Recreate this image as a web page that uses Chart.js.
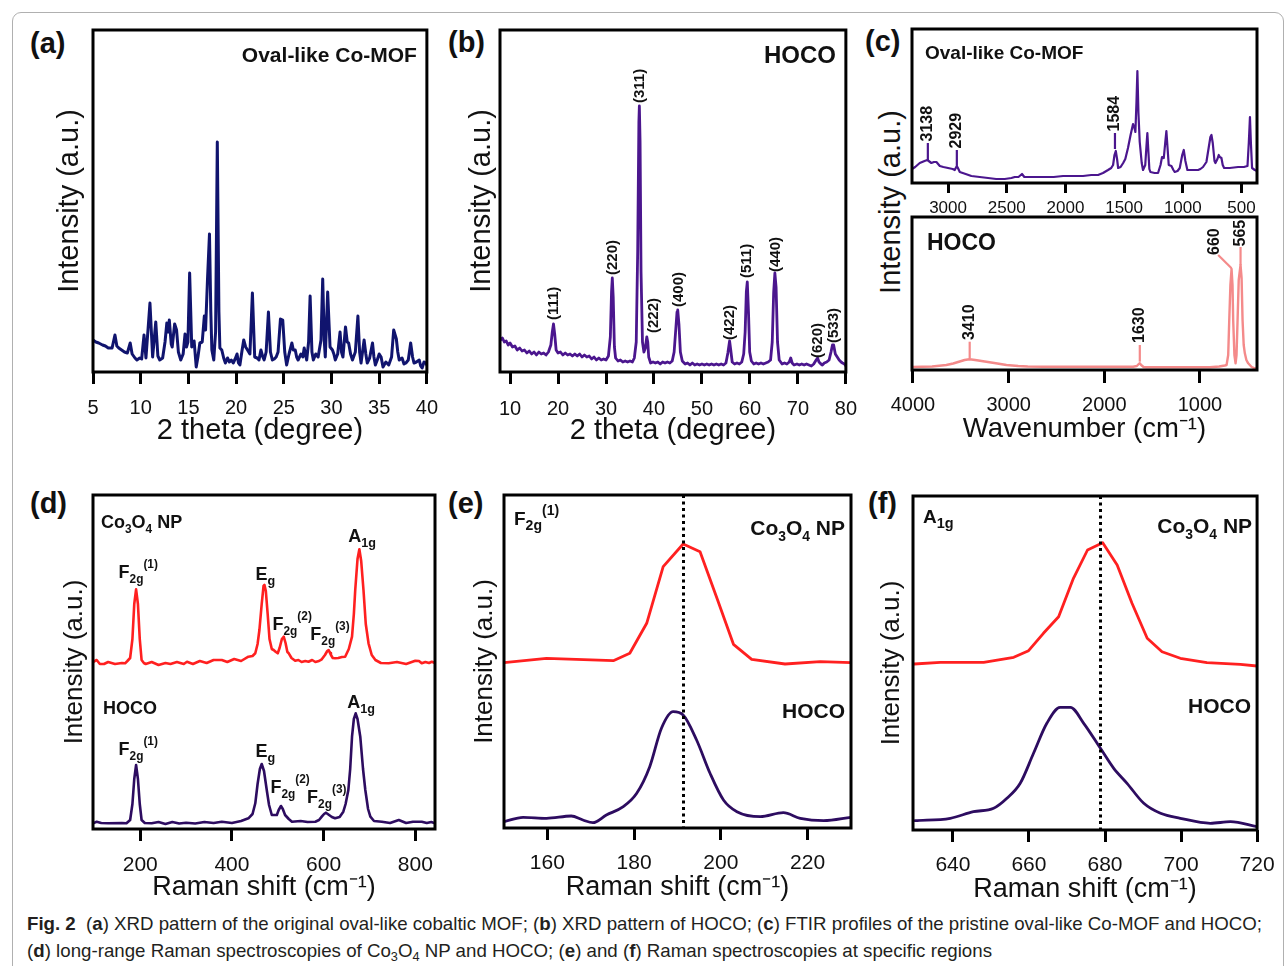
<!DOCTYPE html>
<html><head><meta charset="utf-8">
<script src="https://cdn.jsdelivr.net/npm/chart.js@4.4.1/dist/chart.umd.min.js"></script>
<style>
html,body{margin:0;padding:0;background:#fff;}
#fig{width:1285px;height:966px;position:relative;overflow:hidden;font-family:"Liberation Sans",Arial,Helvetica,sans-serif;}
canvas{position:absolute;}
.frame{position:absolute;left:12px;top:12px;width:1272px;height:1000px;border:1px solid #b0b0b0;border-radius:9px;box-sizing:border-box;}
.plab{position:absolute;font-weight:bold;font-size:29px;line-height:29px;color:#111;}
.cap{position:absolute;left:27px;white-space:nowrap;font-family:"Liberation Sans Narrow","Liberation Sans",Arial,sans-serif;font-size:19px;line-height:19px;color:#231f20;transform-origin:0 0;display:inline-block;}
.cap sub{font-size:0.68em;vertical-align:-0.28em;line-height:0;}
.sharedY{position:absolute;width:300px;height:34px;line-height:34px;text-align:center;font-size:29px;color:#111;transform:rotate(-90deg);}
</style></head>
<body><div id="fig">
<div class="frame"></div>
<div class="plab" style="left:30px;top:29px">(a)</div>
<div class="plab" style="left:448px;top:28px">(b)</div>
<div class="plab" style="left:865px;top:27px">(c)</div>
<div class="plab" style="left:30px;top:489px">(d)</div>
<div class="plab" style="left:448px;top:489px">(e)</div>
<div class="plab" style="left:868px;top:489px">(f)</div>
<div class="sharedY" style="left:740px;top:185px">Intensity (a.u.)</div>
<div class="cap" id="cap1" style="top:914px"><b>Fig. 2</b>&nbsp; (<b>a</b>) XRD pattern of the original oval-like cobaltic MOF; (<b>b</b>) XRD pattern of HOCO; (<b>c</b>) FTIR profiles of the pristine oval-like Co-MOF and HOCO;</div>
<div class="cap" id="cap2" style="top:941px">(<b>d</b>) long-range Raman spectroscopies of Co<sub>3</sub>O<sub>4</sub> NP and HOCO; (<b>e</b>) and (<b>f</b>) Raman spectroscopies at specific regions</div>
</div>
<script>
const FONT = '"Liberation Sans", Arial, Helvetica, sans-serif';

// ===== (a) XRD of oval-like Co-MOF: [2theta, intensity a.u.]
const mofXrd = [[5.0,32],[5.3,30],[5.6,29],[6.0,27],[6.3,26],[6.6,24],[7.0,24],[7.3,37],[7.5,26],[7.7,24],[8.0,22],[8.3,20],[8.6,19],[8.9,29],[9.1,18],[9.4,14],[9.6,12],[9.9,14],[10.1,13],[10.35,37],[10.55,14],[10.97,69],[11.25,15],[11.58,50],[11.8,16],[12.0,12],[12.3,14],[12.55,30],[12.74,49],[12.88,40],[13.0,52],[13.2,28],[13.3,25],[13.56,48],[13.76,42],[13.95,20],[14.2,12],[14.45,18],[14.65,38],[14.8,25],[14.95,30],[15.13,99],[15.35,25],[15.6,31],[15.82,5],[16.0,15],[16.2,29],[16.45,30],[16.67,56],[16.8,42],[17.0,92],[17.21,138],[17.35,60],[17.46,22],[17.66,12],[17.85,40],[18.03,230],[18.2,60],[18.3,24],[18.5,22],[18.7,14],[18.88,9],[19.1,14],[19.3,10],[19.5,12],[19.7,9],[19.9,13],[20.1,18],[20.25,9],[20.4,7],[20.6,20],[20.8,32],[21.0,25],[21.2,22],[21.45,18],[21.71,79],[21.95,15],[22.2,14],[22.4,12],[22.6,22],[22.8,15],[22.94,12],[23.15,20],[23.39,60],[23.6,20],[23.8,12],[24.0,13],[24.2,15],[24.4,20],[24.65,53],[24.89,52],[25.1,20],[25.3,7],[25.55,18],[25.85,29],[26.0,22],[26.2,22],[26.35,15],[26.5,12],[26.8,18],[27.0,15],[27.14,24],[27.4,12],[27.6,30],[27.76,76],[27.95,20],[28.1,12],[28.35,18],[28.6,15],[28.9,32],[29.08,93],[29.25,30],[29.35,15],[29.6,80],[29.85,25],[30.1,22],[30.25,18],[30.4,12],[30.65,18],[30.9,40],[31.05,20],[31.2,15],[31.47,45],[31.65,30],[31.8,29],[32.0,18],[32.2,12],[32.5,20],[32.77,56],[32.95,20],[33.1,9],[33.42,32],[33.6,18],[33.75,9],[34.0,14],[34.3,29],[34.45,15],[34.6,7],[34.8,12],[35.0,18],[35.2,15],[35.4,5],[35.7,10],[36.0,7],[36.3,15],[36.52,42],[36.8,33],[36.95,20],[37.1,12],[37.4,14],[37.6,8],[37.8,9],[38.05,12],[38.3,29],[38.5,15],[38.65,9],[38.9,10],[39.2,12],[39.35,6],[39.5,4],[39.7,10],[39.9,9],[40.0,7]];
const mofXrdTicks = [5,10,15,20,25,30,35,40];

// ===== (b) XRD of HOCO
const hocoXrd = [[8.0,32],[8.4,34],[8.8,30],[9.2,31],[9.6,27],[10.0,29],[10.5,25],[11.0,26],[11.5,22],[12.0,24],[12.5,21],[13.0,22],[13.5,19],[14.0,21],[14.5,18],[15.0,20],[15.5,17],[16.0,20],[16.5,18],[17.0,19],[17.5,17],[18.0,20],[18.5,27],[18.8,40],[19.05,48],[19.3,38],[19.6,22],[20.0,19],[20.5,20],[21.0,17],[21.5,19],[22.0,17],[22.5,18],[23.0,16],[23.5,18],[24.0,16],[24.5,18],[25.0,15],[25.5,17],[26.0,15],[26.5,16],[27.0,13],[27.5,15],[28.0,12],[28.5,14],[29.0,12],[29.5,13],[30.0,12],[30.5,16],[30.9,35],[31.15,80],[31.31,94],[31.5,75],[31.75,25],[32.0,14],[32.5,11],[33.0,12],[33.5,10],[34.0,11],[34.5,10],[35.0,11],[35.5,10],[35.9,14],[36.3,30],[36.6,120],[36.85,250],[36.95,266],[37.1,230],[37.3,100],[37.6,30],[37.9,20],[38.2,24],[38.5,35],[38.7,30],[38.9,15],[39.3,9],[39.8,10],[40.3,9],[40.8,10],[41.3,8],[41.8,10],[42.3,9],[42.8,10],[43.3,9],[43.8,11],[44.2,20],[44.5,40],[44.8,60],[44.95,62],[45.2,48],[45.5,20],[45.9,11],[46.5,8],[47.0,9],[47.5,7],[48.0,9],[48.5,7],[49.0,8],[49.5,7],[50.0,8],[50.5,7],[51.0,8],[51.5,7],[52.0,8],[52.5,7],[53.0,8],[53.5,7],[54.0,8],[54.5,7],[55.0,9],[55.4,19],[55.76,31],[56.0,22],[56.3,10],[56.8,8],[57.3,9],[57.8,8],[58.3,10],[58.7,18],[59.0,40],[59.25,80],[59.45,90],[59.7,60],[59.95,20],[60.3,11],[60.8,8],[61.3,9],[61.8,8],[62.3,9],[62.8,8],[63.3,9],[63.8,10],[64.3,12],[64.65,30],[64.95,80],[65.2,99],[65.45,85],[65.75,30],[66.1,12],[66.7,8],[67.2,9],[67.7,8],[68.2,10],[68.5,14],[68.8,9],[69.2,7],[69.8,8],[70.3,7],[70.8,8],[71.3,7],[71.8,8],[72.3,7],[72.8,6],[73.3,8],[73.8,12],[74.1,14],[74.4,10],[74.8,8],[75.1,7],[75.5,9],[76.0,10],[76.5,12],[76.9,20],[77.2,27],[77.45,27],[77.8,18],[78.2,15],[78.6,12],[79.0,10],[79.3,9],[79.7,8],[80.0,6]];
const hocoXrdTicks = [10,20,30,40,50,60,70,80];
const hklLabels = ['(111)','(220)','(311)','(222)','(400)','(422)','(511)','(440)','(620)','(533)'];
const hklTheta  = [19.05,31.4,37.0,39.9,45.25,55.86,59.45,65.5,74.1,77.55];
const hklLabelBase = [52,97,269,39,65,32,94,100,14,29];

// ===== (c) FTIR
const mofFtir = [[3307,14],[3280,16],[3241,20],[3200,22],[3176,23],[3142,20],[3120,21],[3099,21],[3070,17],[3040,16],[3000,15],[2960,14],[2943,13],[2930,16],[2920,16],[2900,11],[2850,9],[2801,7],[2730,6],[2659,5],[2590,4],[2517,4],[2460,5],[2432,6],[2400,6],[2370,9],[2350,6],[2333,6],[2250,6],[2177,6],[2100,6],[2020,7],[1949,7],[1850,7],[1780,8],[1722,8],[1680,10],[1637,13],[1610,15],[1594,18],[1582,28],[1571,32],[1560,24],[1551,15],[1530,16],[1508,20],[1490,24],[1467,35],[1445,48],[1424,59],[1412,55],[1404,51],[1395,80],[1387,112],[1378,70],[1367,41],[1350,20],[1339,13],[1320,18],[1308,40],[1302,50],[1295,35],[1285,14],[1276,11],[1240,10],[1211,10],[1190,18],[1177,26],[1162,25],[1150,40],[1140,52],[1130,35],[1120,18],[1097,17],[1080,13],[1069,11],[1045,12],[1026,15],[1005,28],[992,33],[978,22],[961,13],[920,13],[870,13],[850,14],[828,16],[799,21],[780,35],[765,46],[756,48],[745,40],[730,22],[722,20],[705,24],[694,28],[685,26],[671,25],[660,18],[648,15],[600,15],[529,16],[480,16],[449,17],[438,40],[428,66],[420,40],[410,15],[387,13],[368,12]];
const mofFtirTicks = [3000,2500,2000,1500,1000,500];
const mofFtirLabels = ['3138','2929','1584'];
const mofFtirLabelPos = [3172,2925,1578];
const mofFtirLeader = [[23,40],[16,33],[34,50]];

const hocoFtir = [[4010,3],[3800,3.5],[3700,4.5],[3651,5],[3580,6.5],[3511,8.5],[3460,10],[3410,10.7],[3350,10],[3300,9.3],[3233,8.3],[3150,7],[3023,5],[2900,4],[2800,3.5],[2640,3.3],[2400,3.3],[2117,3.3],[1900,3.3],[1699,3.3],[1660,4],[1640,6],[1629,6.7],[1615,5],[1590,3],[1560,2.7],[1200,2.7],[897,2.7],[800,3.5],[740,4.5],[722,5],[705,15],[694,50],[682,85],[670,101],[660,85],[653,50],[640,15],[628,6.7],[618,15],[607,50],[595,90],[576,105],[565,92],[555,50],[543,25],[531,16.7],[515,10],[496,6.7],[460,3],[427,1.7],[404,1.5]];
const hocoFtirTicks = [4000,3000,2000,1000];
const hocoFtirLabels = ['3410','1630','660','565'];

// ===== (d) Raman long range
const co3o4Raman = [[97,167],[105,169],[112,165],[121,165],[130,167],[145,165],[160,166],[167,165.7],[172,168],[178,171],[183,190],[187,225],[191,239.7],[195,225],[199,190],[203,169],[208,166],[212,165],[225,167],[240,164],[255,166],[266,165],[280,167],[295,165],[302,167.3],[315,165],[330,168],[345,166],[360,169],[378,169],[390,167],[405,170],[420,168],[436,172.3],[445,173],[451,175.7],[456,185],[460,199],[465,225],[469,243],[471,244],[474,238],[478,215],[482,190],[487,180],[491,179],[496,177],[500,175.7],[504,181],[509,190],[513,192.3],[517,186],[521,177],[524,175.7],[530,171],[538,168.3],[545,169],[552,167],[560,168],[567,167.3],[575,169],[582,167],[590,168],[596,169.7],[603,174],[608,178],[611,179],[614,176],[616,174],[620,171],[625,170.7],[632,171],[640,172],[647,172.3],[655,180],[662,192.3],[666,215],[669,239],[674,270],[678,279.7],[682,268],[687,239],[692,205],[698,185.7],[705,174],[713,169],[725,166],[742,165.7],[760,167],[780,165],[800,168.3],[808,168],[814,165.7],[822,167],[830,166],[836,167.3],[843,166]];
const hocoRaman = [[97,5.7],[105,7.3],[115,6],[130,5.7],[160,6],[170,5.7],[178,9],[183,25],[187,50],[191,64],[195,50],[199,25],[203,9],[210,6],[225,5.7],[240,7],[255,5],[270,7],[285,5.5],[300,6.3],[320,5.5],[340,7],[360,6],[378,7.3],[400,6],[420,8],[436,10.7],[445,15],[451,25.7],[456,45],[461,60],[465,65],[470,58],[476,39],[481,24],[487,14],[492,14],[498,14],[502,19],[507,23],[511,20],[516,14],[524,10],[531,7.3],[550,8],[565,7],[582,7.3],[590,9],[596,12.3],[601,15],[605,16.3],[609,15],[612,14],[618,12],[625,10.7],[635,12],[643,17.3],[648,25],[654,39],[658,60],[662,92.3],[666,110],[670,115.7],[674,110],[680,92.3],[686,60],[691,39],[697,20],[702,12.3],[710,8],[727,7.3],[745,6],[764,9],[780,6],[795,7.3],[814,7.3],[825,6],[835,7],[843,5.7]];
const ramanTicks = [200,400,600,800];

// ===== (e) F2g(1) region
const co3o4F2g = [[150,165.3],[159.8,169.7],[175.2,167.3],[179.0,174.7],[182.9,204.7],[186.7,261.3],[191.3,284],[195.2,276.3],[199.1,229.7],[202.9,183.7],[207.1,168.7],[214.8,164],[222.9,166.3],[230,165.3]];
const hocoF2g = [[150,6.3],[154.4,10.7],[159.8,9.7],[165.5,12],[168.2,8],[170.5,5.3],[173.6,13],[177.5,21.3],[180.6,34.7],[183.6,61.3],[186.3,99.7],[189.0,116.3],[191.3,113],[194.4,88],[197.5,54.7],[200.6,28],[203.7,16.3],[209.1,11.3],[214.4,15.3],[218.3,9.7],[223.7,7.3],[230,10.7]];
const f2gTicks = [160,180,200,220];
const f2gRef = 191.3;

// ===== (f) A1g region
const co3o4A1g = [[629.8,166],[636.7,167.7],[648.1,167.7],[656,172.7],[659.9,179.3],[663.8,196.7],[667.8,213.3],[671.7,251.7],[675.4,280],[679.4,287.3],[683.2,265],[687.1,226.7],[691.1,191.7],[695,178.3],[699.8,171.7],[706.8,167.3],[715.6,165.7],[720,164]];
const hocoA1g = [[630,9.3],[639.3,11.7],[645.4,18.3],[650.7,21.7],[654.2,31.7],[657.7,46.7],[661.2,76.7],[664.7,106.7],[668.2,122.7],[670.9,122.7],[674.4,106.7],[678.8,81.7],[682.3,61.7],[685.8,46.7],[690.2,26.7],[694.6,16.7],[699.8,11.7],[707.7,6.7],[713,8.3],[720,3.3]];
const a1gTicks = [640,660,680,700,720];
const a1gRef = 678.8;

// ---------- helpers
function drawRich(ctx, x, y, parts, size, align, ratio) {
  const r = ratio || 0.62;
  const seg = parts.map(([t, m]) => {
    const fs = m === 0 ? size : size * r;
    ctx.font = `bold ${fs}px ${FONT}`;
    return {t, m, fs, w: ctx.measureText(t).width};
  });
  const total = seg.reduce((a, s) => a + s.w, 0);
  let cx = align === 'right' ? x - total : x;
  ctx.textAlign = 'left'; ctx.textBaseline = 'alphabetic';
  for (const s of seg) {
    ctx.font = `bold ${s.fs}px ${FONT}`;
    const dy = s.m === 1 ? size * 0.28 : (s.m === 2 ? -size * 0.55 : 0);
    ctx.fillText(s.t, cx, y + dy);
    cx += s.w;
  }
}

const decoPlugin = {
  id: 'deco',
  afterDatasetsDraw(chart) {
    const o = chart.canvas._deco || {};
    const {ctx, chartArea: ca} = chart;
    const xs = chart.scales.x, ys = chart.scales.y;
    ctx.save();
    ctx.fillStyle = '#111';
    if (o.vline != null) {
      const px = Math.round(xs.getPixelForValue(o.vline)) + 0.5;
      ctx.strokeStyle = '#000'; ctx.lineWidth = 3; ctx.setLineDash([3, 3.5]);
      ctx.beginPath(); ctx.moveTo(px, ca.top); ctx.lineTo(px, ca.bottom); ctx.stroke();
      ctx.setLineDash([]);
    }
    (o.leaders || []).forEach(l => {
      ctx.strokeStyle = l.color; ctx.lineWidth = 2.2;
      ctx.beginPath();
      ctx.moveTo(xs.getPixelForValue(l.x1), ys.getPixelForValue(l.y1));
      ctx.lineTo(xs.getPixelForValue(l.x2), ys.getPixelForValue(l.y2));
      ctx.stroke();
    });
    (o.rot || []).forEach(r => {
      ctx.save();
      ctx.translate(xs.getPixelForValue(r.x), ys.getPixelForValue(r.y));
      ctx.rotate(-Math.PI / 2);
      ctx.font = `bold ${r.size}px ${FONT}`;
      ctx.textAlign = 'left'; ctx.textBaseline = 'middle';
      ctx.fillText(r.t, 0, 0);
      ctx.restore();
    });
    (o.texts || []).forEach(t => {
      let x, y, align = 'left';
      if (t.ref === 'tl') { x = ca.left + t.dx; y = ca.top + t.dy; }
      else if (t.ref === 'tr') { x = ca.right - t.dx; y = ca.top + t.dy; align = 'right'; }
      else { x = xs.getPixelForValue(t.vx); y = ys.getPixelForValue(t.vy); }
      drawRich(ctx, x, y, t.parts, t.size, align, t.ratio);
    });
    ctx.strokeStyle = '#000'; ctx.lineWidth = 3;
    ctx.strokeRect(ca.left, ca.top, ca.right - ca.left, ca.bottom - ca.top);
    ctx.restore();
  }
};
Chart.register(decoPlugin);

function panel(rect, plot, o) {
  const cv = document.createElement('canvas');
  cv.width = rect.w; cv.height = rect.h;
  Object.assign(cv.style, {left: rect.x + 'px', top: rect.y + 'px', width: rect.w + 'px', height: rect.h + 'px'});
  document.getElementById('fig').appendChild(cv);
  cv._deco = o.deco || {};
  const yW = plot.L - rect.x, xH = rect.y + rect.h - plot.B;
  return new Chart(cv, {
    type: 'line',
    data: {datasets: o.series.map(s => ({
      data: s.pts.map(p => ({x: p[0], y: p[1]})),
      borderColor: s.color, borderWidth: s.width, pointRadius: 0,
      tension: s.smooth ? 0.4 : 0,
      cubicInterpolationMode: s.smooth ? 'monotone' : 'default',
      borderJoinStyle: 'round', borderCapStyle: 'round', fill: false
    }))},
    options: {
      responsive: false, animation: false, devicePixelRatio: 1,
      layout: {padding: {top: plot.T - rect.y, right: rect.x + rect.w - plot.R, left: 0, bottom: 0}},
      plugins: {legend: {display: false}, tooltip: {enabled: false}},
      events: [],
      scales: {
        x: {
          type: 'linear', min: o.xmin, max: o.xmax, reverse: !!o.reverse,
          afterFit: s => { s.height = xH; },
          afterBuildTicks: s => { s.ticks = o.xticks.map(v => ({value: v})); },
          ticks: {font: {family: FONT, size: o.tickSize}, color: '#111', padding: o.tickPad, maxRotation: 0, autoSkip: false, callback: v => String(v)},
          grid: {display: true, drawOnChartArea: false, drawTicks: true, tickLength: o.tickLen, tickWidth: 3, tickColor: '#000'},
          border: {display: false},
          title: {display: !!o.xtitle, text: o.xtitle, color: '#111', font: {family: FONT, size: o.xtitleSize}, padding: {top: 0, bottom: o.xtitlePad}}
        },
        y: {
          type: 'linear', min: 0, max: plot.B - plot.T,
          afterFit: s => { s.width = yW; },
          ticks: {display: false}, grid: {display: false}, border: {display: false},
          title: {display: !!o.ytitle, text: o.ytitle, color: '#111', font: {family: FONT, size: o.ytitleSize}, padding: {top: o.ytitlePad, bottom: 0}}
        }
      }
    }
  });
}

const RED = '#ff2020', NAVY = '#10146e', VIOLET = '#4b168e', DPURP = '#2d0c60', SALMON = '#f48a8a';
const ramanTitle = 'Raman shift (cm\u207B\u00B9)';

// (a)
panel({x:0,y:0,w:450,h:455}, {L:93,T:30,R:435,B:372}, {
  series: [{pts: mofXrd, color: NAVY, width: 3}],
  xmin: 5, xmax: 40, xticks: mofXrdTicks, tickSize: 20, tickPad: 12, tickLen: 12,
  xtitle: '2 theta (degree)', xtitleSize: 29, xtitlePad: 6.6,
  ytitle: 'Intensity (a.u.)', ytitleSize: 29, ytitlePad: 53,
  deco: {texts: [{ref:'tr', dx:10, dy:32, size:21, parts:[['Oval-like Co-MOF',0]]}]}
});

// (b)
panel({x:445,y:0,w:425,h:455}, {L:500,T:30,R:847,B:372}, {
  series: [{pts: hocoXrd, color: VIOLET, width: 2.8}],
  xmin: 7.9, xmax: 80, xticks: hocoXrdTicks, tickSize: 20, tickPad: 13, tickLen: 12,
  xtitle: '2 theta (degree)', xtitleSize: 29, xtitlePad: 6.6,
  ytitle: 'Intensity (a.u.)', ytitleSize: 29, ytitlePad: 19.6,
  deco: {
    texts: [{ref:'tr', dx:10, dy:33, size:24, parts:[['HOCO',0]]}],
    rot: hklLabels.map((t, i) => ({t, x: hklTheta[i], y: hklLabelBase[i], size: 15}))
  }
});

// (c) top
panel({x:862,y:0,w:423,h:222}, {L:912,T:29,R:1257,B:183}, {
  series: [{pts: mofFtir, color: VIOLET, width: 2.2}],
  xmin: 368, xmax: 3307, reverse: true, xticks: mofFtirTicks, tickSize: 17, tickPad: 4.8, tickLen: 10,
  deco: {
    texts: [{ref:'tl', dx:13, dy:30, size:19, parts:[['Oval-like Co-MOF',0]]}],
    leaders: mofFtirLabelPos.map((x, i) => ({x1:x, y1:mofFtirLeader[i][0], x2:x, y2:mofFtirLeader[i][1], color: VIOLET})),
    rot: mofFtirLabels.map((t, i) => ({t, x: mofFtirLabelPos[i], y: mofFtirLeader[i][1] + 1.5, size: 16}))
  }
});

// (c) bottom
panel({x:862,y:212,w:423,h:243}, {L:912,T:217,R:1257,B:370}, {
  series: [{pts: hocoFtir, color: SALMON, width: 2.4}],
  xmin: 404, xmax: 4010, reverse: true, xticks: hocoFtirTicks, tickSize: 20, tickPad: 10, tickLen: 13,
  xtitle: 'Wavenumber (cm\u207B\u00B9)', xtitleSize: 27.5, xtitlePad: 9.5,
  deco: {
    texts: [{ref:'tl', dx:15, dy:33, size:23, parts:[['HOCO',0]]}],
    leaders: [
      {x1:3407, y1:11.7, x2:3407, y2:28.3, color: SALMON},
      {x1:1629, y1:8.3, x2:1629, y2:25, color: SALMON},
      {x1:670, y1:101.7, x2:810, y2:115, color: SALMON},
      {x1:576, y1:105, x2:576, y2:123, color: SALMON}
    ],
    rot: [
      {t: hocoFtirLabels[0], x: 3407, y: 30, size: 16},
      {t: hocoFtirLabels[1], x: 1629, y: 27, size: 16},
      {t: hocoFtirLabels[2], x: 850, y: 115, size: 16},
      {t: hocoFtirLabels[3], x: 576, y: 123.5, size: 16}
    ]
  }
});

const F = n => [['F',0],['2g',1],['(' + n + ')',2]];
const EG = [['E',0],['g',1]];
const A1G = [['A',0],['1g',1]];
const CONP = [['Co',0],['3',1],['O',0],['4',1],[' NP',0]];

// (d)
panel({x:0,y:462,w:450,h:450}, {L:93,T:495,R:435,B:829}, {
  series: [{pts: co3o4Raman, color: RED, width: 2.6}, {pts: hocoRaman, color: DPURP, width: 2.6}],
  xmin: 97, xmax: 843, xticks: ramanTicks, tickSize: 21, tickPad: 11.4, tickLen: 12,
  xtitle: ramanTitle, xtitleSize: 27, xtitlePad: 7.8,
  ytitle: 'Intensity (a.u.)', ytitleSize: 26, ytitlePad: 59.4,
  deco: {texts: [
    {ref:'tl', dx:8, dy:33, size:18, parts: CONP, ratio:0.66},
    {ref:'tl', dx:10, dy:219, size:18, parts: [['HOCO',0]]},
    {vx:152.7, vy:251, size:18, parts: F(1), ratio:0.66},
    {vx:451.5, vy:249, size:18, parts: EG, ratio:0.7},
    {vx:488.5, vy:199, size:18, parts: F(2), ratio:0.66},
    {vx:571, vy:189, size:18, parts: F(3), ratio:0.66},
    {vx:654, vy:287, size:18, parts: A1G, ratio:0.7},
    {vx:152.7, vy:74, size:18, parts: F(1), ratio:0.66},
    {vx:451.5, vy:72, size:18, parts: EG, ratio:0.7},
    {vx:484, vy:36, size:18, parts: F(2), ratio:0.66},
    {vx:564, vy:26, size:18, parts: F(3), ratio:0.66},
    {vx:651.5, vy:121, size:18, parts: A1G, ratio:0.7}
  ]}
});

// (e)
panel({x:445,y:462,w:425,h:450}, {L:504,T:495,R:851,B:828}, {
  series: [{pts: co3o4F2g, color: RED, width: 2.8}, {pts: hocoF2g, color: DPURP, width: 2.8, smooth: true}],
  xmin: 150, xmax: 230, xticks: f2gTicks, tickSize: 21, tickPad: 10.4, tickLen: 12,
  xtitle: ramanTitle, xtitleSize: 27, xtitlePad: 7.8,
  ytitle: 'Intensity (a.u.)', ytitleSize: 26, ytitlePad: 24,
  deco: {vline: f2gRef, texts: [
    {ref:'tl', dx:10, dy:30, size:19, parts: F(1), ratio:0.74},
    {ref:'tr', dx:6, dy:40, size:21, parts: CONP, ratio:0.66},
    {ref:'tr', dx:6, dy:223, size:21, parts: [['HOCO',0]]}
  ]}
});

// (f)
panel({x:865,y:462,w:420,h:450}, {L:913,T:496,R:1258,B:830}, {
  series: [{pts: co3o4A1g, color: RED, width: 2.8}, {pts: hocoA1g, color: DPURP, width: 2.8, smooth: true}],
  xmin: 629.5, xmax: 720, xticks: a1gTicks, tickSize: 21, tickPad: 10.4, tickLen: 12,
  xtitle: ramanTitle, xtitleSize: 27, xtitlePad: 5.8,
  ytitle: 'Intensity (a.u.)', ytitleSize: 26, ytitlePad: 11.4,
  deco: {vline: a1gRef, texts: [
    {ref:'tl', dx:10, dy:27, size:19, parts: A1G, ratio:0.76},
    {ref:'tr', dx:5, dy:37, size:21, parts: CONP, ratio:0.66},
    {ref:'tr', dx:6, dy:217, size:21, parts: [['HOCO',0]]}
  ]}
});

// caption fitting
[['cap1', 1235], ['cap2', 965]].forEach(([id, target]) => {
  const el = document.getElementById(id);
  const w = el.getBoundingClientRect().width;
  el.style.transform = `scaleX(${target / w})`;
});
</script>
</body></html>
